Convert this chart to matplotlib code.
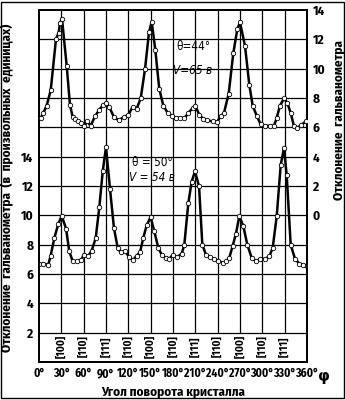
import numpy as np
import matplotlib
matplotlib.use("Agg")
import matplotlib.pyplot as plt
from matplotlib.patches import Rectangle

plt.rcParams['font.family'] = ['Fira Sans Condensed', 'DejaVu Sans']

# top curve, theta=44, V=65 (right scale)
phi_top = [2.3, 5.8, 10.3, 15.7, 22.8, 26.4, 28.2, 30.9, 37.2, 41.6, 45.3, 48.8, 52.4, 56.4,
           60.4, 64.9, 69.4, 75.2, 81, 86.4, 90, 94.4, 100.7, 107, 114, 120, 125.8, 131,
           136.6, 142.4, 147.8, 151.4, 156.2, 161.6, 167, 172.9, 178.3, 184, 189.4, 195.2,
           200.6, 206.5, 210, 215.3, 220.7, 226, 233.3, 239.5, 244, 248.5, 254.8, 261,
           266.4, 270, 276.7, 282.5, 287, 292.4, 297.8, 303.6, 310.3, 315.7, 319.3, 323.7,
           329.1, 333.6, 338.1, 342.6, 347, 352.3, 358.7]
val_top = [6.64, 6.98, 7.48, 8.52, 12.0, 12.46, 13.1, 13.4, 10.2, 7.52, 6.7, 6.57, 6.4, 6.3,
           6.07, 6.4, 6.1, 6.75, 7.2, 7.54, 7.66, 7.39, 6.7, 6.48, 6.7, 6.86, 7.39, 7.25,
           7.97, 9.97, 12.5, 13.2, 11.3, 8.6, 7.48, 6.98, 6.8, 6.66, 6.66, 6.61,
           6.98, 7.32, 7.48, 6.86, 6.57, 6.48, 6.4, 6.39, 6.75, 6.98, 8.3, 11.06,
           12.7, 13.15, 11.56, 8.9, 7.48, 6.8, 6.2, 6.1, 6.1, 6.1, 6.64, 7.48,
           7.97, 7.66, 6.98, 6.07, 5.96, 6.18, 6.4]

# bottom curve, theta=50, V=54 (left scale)
phi_bot = [0.4, 5.8, 12.5, 15.7, 20.6, 25.9, 30.5, 36.3, 40.7, 45.3, 51.4, 56.8, 60.4, 65.8,
           70.8, 76.2, 81, 85.6, 90, 95.4, 100.7, 105.7, 109.7, 115.5, 121.3, 125.8, 131.2,
           135.7, 140.1, 144.7, 150, 154.9, 160.3, 164.8, 170.2, 175, 179.6, 185.8, 191.7,
           195.2, 200.6, 205.1, 209.6, 215, 219.4, 224.3, 229.7, 235.5, 240.9, 246.8, 251.2,
           255.6, 260.2, 264.6, 269, 274.4, 279.8, 285.7, 291.5, 296.9, 303.6, 309.4, 313.9,
           319.3, 324.7, 329.1, 332.7, 338.1, 343.9, 349.7, 355.1, 360]
val_bot = [6.69, 6.69, 6.64, 7.25, 8.46, 9.41, 9.97, 9.1, 7.54, 6.86, 6.86, 6.98, 7.32, 7.2,
           7.59, 8.46, 10.54, 13.0, 14.65, 11.79, 9.13, 7.78, 7.48, 7.54, 7.16, 6.93, 7.25,
           7.48, 8.46, 9.34, 9.88, 8.9, 7.78, 7.32, 7.1, 7.03, 7.32, 7.16, 7.39,
           8.0, 10.84, 12.3, 13.0, 11.97, 8.0, 7.32, 7.16, 7.03, 6.91, 6.75, 6.86,
           7.1, 7.93, 8.75, 9.93, 9.29, 8.0, 7.1, 6.86, 7.03, 7.03, 7.2, 7.78,
           9.93, 13.44, 14.58, 12.76, 8.0, 7.03, 6.71, 6.62, 6.57]

x_ticks = list(range(0, 361, 30))
x_labels = ['%d°' % a for a in x_ticks]
left_ticks = [2, 4, 6, 8, 10, 12, 14]
right_ticks = [0, 2, 4, 6, 8, 10, 12, 14]
miller_pos = [30, 60, 90, 120, 150, 180, 210, 240, 270, 300, 330]
miller = ['100', '110', '111', '110', '100', '110', '111', '110', '100', '110', '111']

fig = plt.figure(figsize=(3.45, 4.0), dpi=100)
ax = fig.add_axes([39/345, 38/400, 268/345, 352/400])
ax.set_xlim(0, 360)
ax.set_ylim(0, 24)

# grid
for y in range(2, 24, 2):
    ax.axhline(y, color='black', lw=0.9, zorder=1)
ax.vlines(x_ticks[1:-1], 2, 24, color='black', lw=0.9, zorder=1)

for s in ax.spines.values():
    s.set_linewidth(1.3)

ax.set_xticks(x_ticks)
ax.set_xticklabels(x_labels, fontsize=8.4, fontweight='bold')
ax.set_yticks(left_ticks)
ax.set_yticklabels([str(t) for t in left_ticks], fontsize=9.5, fontweight='bold')
ax.tick_params(length=0, pad=4)

ax.plot(phi_bot, val_bot, color='black', lw=1.8, marker='o', ms=3.2,
        mfc='white', mec='black', mew=0.6, zorder=3)

ax2 = ax.twinx()
ax2.set_ylim(-10, 14)
ax2.set_yticks(right_ticks)
ax2.set_yticklabels([str(t) for t in right_ticks], fontsize=9.5, fontweight='bold')
ax2.tick_params(length=0, pad=4)
for s in ax2.spines.values():
    s.set_linewidth(1.3)
ax2.plot(phi_top, val_top, color='black', lw=1.8, marker='o', ms=3.2,
         mfc='white', mec='black', mew=0.6, zorder=3)

for p, m in zip(miller_pos, miller):
    ax.text(p, 1.05, '[' + m + ']', rotation=90, ha='center', va='center',
            fontsize=8, fontweight='bold')

ax.text(375, -0.45, 'φ', ha='left', va='top', fontsize=11, fontweight='bold',
        family=['DejaVu Sans'], clip_on=False)

note = dict(ha='center', va='center', fontsize=8.5, family=['DejaVu Sans'],
            fontstretch='condensed')
ax2.text(207, 11.5, 'θ=44°', **note)
ax2.text(207, 9.85, 'V=65 в', style='italic', **note)
ax.text(152, 13.6, 'θ = 50°', **note)
ax.text(152, 12.55, 'V = 54 в', style='italic', **note)

ax.set_xlabel('Угол поворота кристалла', fontsize=9.5, fontweight='bold', labelpad=4)
ax.set_ylabel('Отклонение  гальванометра  (в  произвольных  единицах)', fontsize=9.5,
              fontweight='bold')
ax.yaxis.set_label_coords(-0.095, 0.494)
ax2.set_ylabel('Отклонение  гальванометра', fontsize=9.5, fontweight='bold', rotation=90)
ax2.yaxis.set_label_coords(1.095, 0.6875)

fig.patches.append(Rectangle((0.004, 0.004), 0.992, 0.992, transform=fig.transFigure,
                             fill=False, edgecolor='black', lw=1.0))

fig.savefig('out.png', dpi=100)
